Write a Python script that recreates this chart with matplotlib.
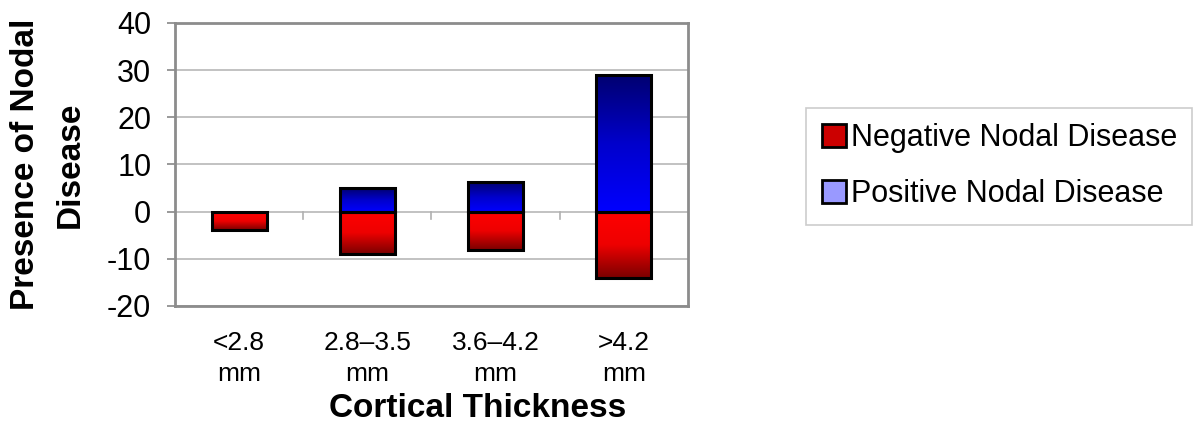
import numpy as np
import matplotlib.pyplot as plt
from matplotlib.colors import LinearSegmentedColormap
from matplotlib.patches import Patch

# Chart data
categories = ['<2.8\nmm', '2.8\u20133.5\nmm', '3.6\u20134.2\nmm', '>4.2\nmm']
negative_nodal = [-3.8, -9, -8.2, -14]
positive_nodal = [0, 5, 6.3, 29]
y_ticks = [-20, -10, 0, 10, 20, 30, 40]

plt.rcParams['font.family'] = ['Liberation Sans', 'DejaVu Sans']

red_cmap = LinearSegmentedColormap.from_list('red_grad', ['#ff0000', '#ee0000', '#7a0000'])
blue_cmap = LinearSegmentedColormap.from_list('blue_grad', ['#0000ff', '#0000cc', '#000070'])

fig = plt.figure(figsize=(12, 4.22), dpi=100)
ax = fig.add_axes([0.1458, 0.2749, 0.4275, 0.6706])

x = np.arange(len(categories))
bar_width = 0.43


def gradient_bar(ax, xc, value, cmap):
    """Draw a bar with a vertical gradient, lightest at the zero line"""
    if value == 0:
        return
    grad = np.linspace(0, 1, 256).reshape(-1, 1)
    if value > 0:
        extent = (xc - bar_width / 2, xc + bar_width / 2, 0, value)
        origin = 'lower'
    else:
        extent = (xc - bar_width / 2, xc + bar_width / 2, value, 0)
        origin = 'upper'
    ax.imshow(grad, cmap=cmap, aspect='auto', extent=extent, origin=origin, zorder=2)
    ax.bar(xc, value, width=bar_width, facecolor='none', edgecolor='black',
           linewidth=2.2, zorder=3)


for i in range(len(categories)):
    gradient_bar(ax, x[i], positive_nodal[i], blue_cmap)
    gradient_bar(ax, x[i], negative_nodal[i], red_cmap)

ax.set_xlim(-0.5, len(categories) - 0.5)
ax.set_ylim(-20, 40)
ax.set_yticks(y_ticks)
ax.set_yticklabels([str(t) for t in y_ticks], fontsize=22)
ax.yaxis.grid(True, color='#b8b8b8', linewidth=1.2, zorder=0)
ax.set_axisbelow(True)

# category labels at the bottom, small ticks at boundaries on the zero line
ax.set_xticks([])
for i, label in enumerate(categories):
    ax.text(x[i], -25.2, label, ha='center', va='top', fontsize=19,
            linespacing=1.38)
for b in np.arange(0.5, len(categories) - 0.5, 1):
    ax.plot([b, b], [0, -1.6], color='#b0b0b0', linewidth=1.2, zorder=1)

ax.tick_params(axis='y', length=6, width=1.2, color='#888888', pad=11)
for spine in ax.spines.values():
    spine.set_color('#8c8c8c')
    spine.set_linewidth(2)

ax.set_ylabel('Presence of Nodal\nDisease', fontsize=24, fontweight='bold',
              labelpad=15, linespacing=1.6)
fig.text(0.398, 0.033, 'Cortical Thickness', ha='center', va='center',
         fontsize=24, fontweight='bold')

# Legend
handles = [
    Patch(facecolor='#cc0000', edgecolor='black', linewidth=2, label='Negative Nodal Disease'),
    Patch(facecolor='#9999ff', edgecolor='black', linewidth=2, label='Positive Nodal Disease'),
]
leg = fig.legend(handles=handles, loc='upper left', bbox_to_anchor=(0.672, 0.744),
                 fontsize=22, frameon=True, fancybox=False, handlelength=0.8,
                 handleheight=0.8, handletextpad=0.15, labelspacing=0.85,
                 borderpad=0.5, borderaxespad=0)
leg.get_frame().set_edgecolor('#c0c0c0')
leg.get_frame().set_linewidth(1.2)

plt.savefig('out.png', dpi=100)
